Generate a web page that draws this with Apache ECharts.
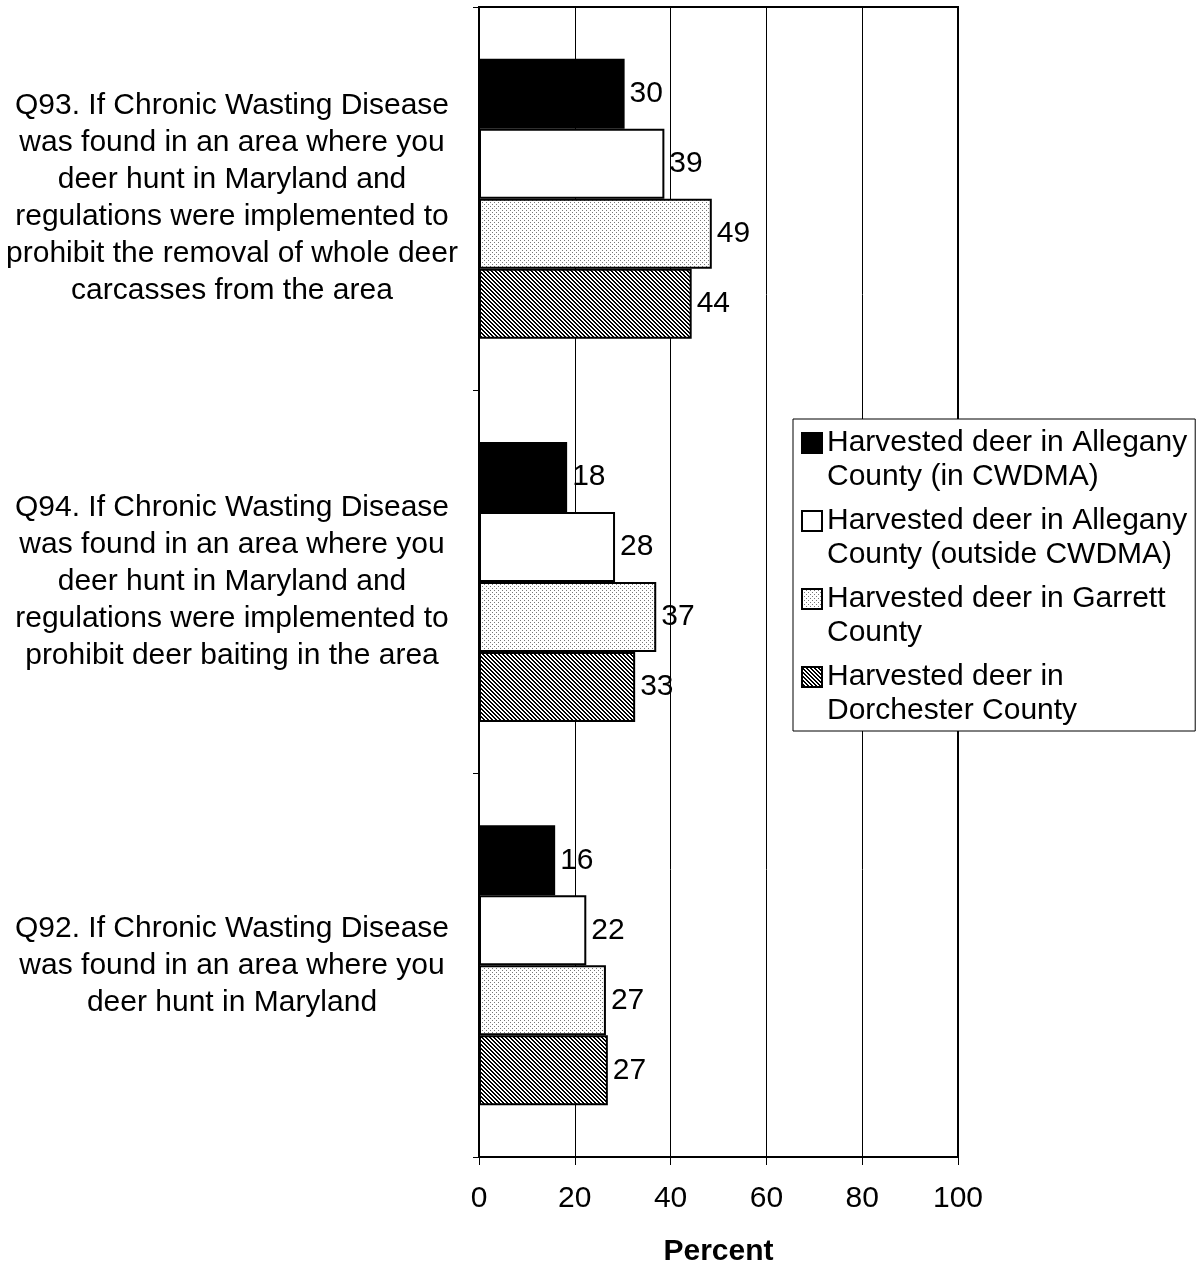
<!DOCTYPE html>
<html>
<head>
<meta charset="utf-8">
<script src="https://cdn.jsdelivr.net/npm/echarts@6/dist/echarts.min.js"></script>
<style>
html, body { margin: 0; padding: 0; background: #fff; }
#chart { width: 1196px; height: 1264px; }
</style>
</head>
<body>
<div id="chart"></div>
<script>
// questions, top to bottom
const questions = [
    "Q93. If Chronic Wasting Disease\nwas found in an area where you\ndeer hunt in Maryland and\nregulations were implemented to\nprohibit the removal of whole deer\ncarcasses from the area",
    "Q94. If Chronic Wasting Disease\nwas found in an area where you\ndeer hunt in Maryland and\nregulations were implemented to\nprohibit deer baiting in the area",
    "Q92. If Chronic Wasting Disease\nwas found in an area where you\ndeer hunt in Maryland"
]
const groups = [
    "Harvested deer in Allegany\nCounty (in CWDMA)",
    "Harvested deer in Allegany\nCounty (outside CWDMA)",
    "Harvested deer in Garrett\nCounty",
    "Harvested deer in\nDorchester County"
]
const allegInside = [30.4, 18.4, 15.9]
const allegOutside = [38.7, 28.4, 22.4]
const garrett = [48.6, 37.0, 26.5]
const dorchester = [44.4, 32.6, 26.9]
const xTicks = [0, 20, 40, 60, 80, 100]

// fill patterns
function dotPattern() {
    let c = document.createElement("canvas")
    c.width = 4; c.height = 4
    let g = c.getContext("2d")
    g.fillStyle = "#fff"; g.fillRect(0, 0, 4, 4)
    g.fillStyle = "#777"
    g.fillRect(0, 0, 1, 1)
    g.fillRect(2, 2, 1, 1)
    return c
}
function stripePattern() {
    let c = document.createElement("canvas")
    c.width = 4; c.height = 4
    let g = c.getContext("2d")
    g.fillStyle = "#fff"; g.fillRect(0, 0, 4, 4)
    g.fillStyle = "#000"
    for (let x = 0; x < 4; x++) {
        for (let y = 0; y < 4; y++) {
            if ((x - y + 8) % 4 < 2) g.fillRect(x, y, 1, 1)
        }
    }
    return c
}

const fills = [
    "#000",
    "#fff",
    {image: dotPattern(), repeat: "repeat"},
    {image: stripePattern(), repeat: "repeat"}
]
const values = [allegInside, allegOutside, garrett, dorchester]

// icon square sits at the top of a two-line legend item
const legendIcon = "path://M0,0 M0,7 L20,7 L20,27 L0,27 Z M20,68"

let chart = echarts.init(document.getElementById("chart"))
chart.setOption({
    animation: false,
    grid: {
        left: 479, right: 238, top: 7, bottom: 107,
        outerBoundsMode: "none",
        show: true, borderColor: "#000", borderWidth: 2
    },
    legend: {
        orient: "vertical",
        left: 793, top: 419,
        padding: [6, 8, 2, 8],
        itemGap: 8,
        itemWidth: 20, itemHeight: 68,
        backgroundColor: "#fff",
        borderColor: "#000", borderWidth: 1,
        icon: legendIcon,
        textStyle: {fontFamily: "Liberation Sans", fontSize: 30, lineHeight: 34, color: "#000"},
        data: groups
    },
    xAxis: {
        type: "value",
        min: 0, max: 100, interval: 20,
        name: "Percent",
        nameLocation: "middle",
        nameGap: 80,
        nameTextStyle: {fontFamily: "Liberation Sans", fontSize: 30, fontWeight: "bold", color: "#000"},
        axisLine: {show: true, lineStyle: {color: "#000", width: 2}},
        axisTick: {show: true, length: 8, lineStyle: {color: "#000"}},
        axisLabel: {
            fontFamily: "Liberation Sans", fontSize: 30, color: "#000", margin: 27,
            formatter: v => xTicks.includes(v) ? String(v) : ""
        },
        splitLine: {show: true, lineStyle: {color: "#000", width: 1}}
    },
    yAxis: {
        type: "category",
        inverse: true,
        data: questions,
        axisLine: {show: true, lineStyle: {color: "#000", width: 2}},
        axisTick: {show: true, length: 6, lineStyle: {color: "#000"}},
        axisLabel: {
            fontFamily: "Liberation Sans", fontSize: 30, lineHeight: 37,
            color: "#000", align: "center", margin: 247
        }
    },
    series: groups.map((name, i) => {
        return {
            name: name,
            type: "bar",
            barWidth: 70,
            barGap: "0%",
            data: values[i],
            itemStyle: {color: fills[i], borderColor: "#000", borderWidth: 2},
            label: {
                show: true,
                position: "right",
                distance: 5,
                fontFamily: "Liberation Sans", fontSize: 30, color: "#000",
                formatter: p => Math.round(p.value)
            }
        }
    })
})
</script>
</body>
</html>
